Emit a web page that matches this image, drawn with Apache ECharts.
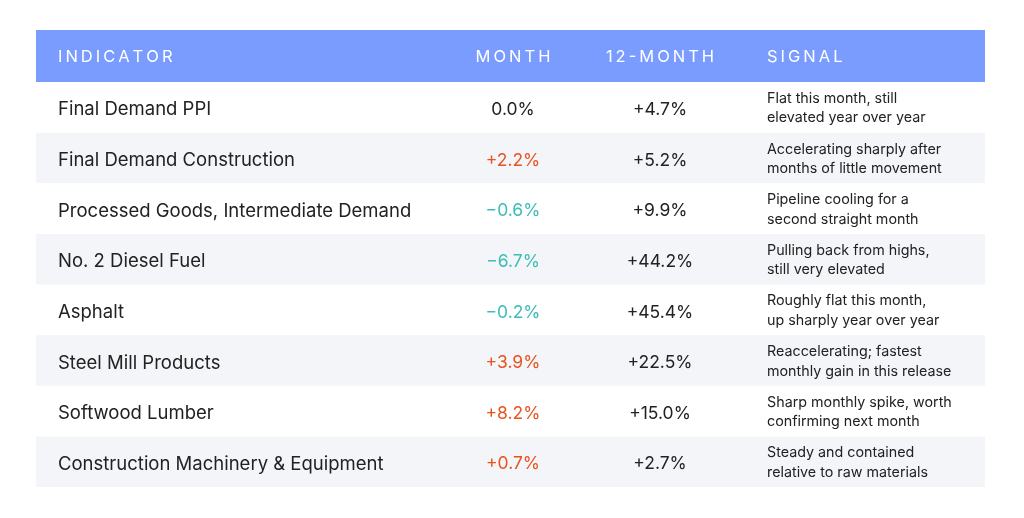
<!DOCTYPE html>
<html>
<head>
<meta charset="utf-8">
<script src="https://cdn.jsdelivr.net/npm/echarts@6/dist/echarts.min.js"></script>
<style>
  html, body { margin: 0; padding: 0; background: #fff; }
  #main { width: 1024px; height: 518px; }
</style>
</head>
<body>
<div id="main"></div>
<script>
// 表头与数据
var headers = ['INDICATOR', 'MONTH', '12-MONTH', 'SIGNAL'];
var indicators = [
    'Final Demand PPI',
    'Final Demand Construction',
    'Processed Goods, Intermediate Demand',
    'No. 2 Diesel Fuel',
    'Asphalt',
    'Steel Mill Products',
    'Softwood Lumber',
    'Construction Machinery & Equipment'
];
var monthChange = [0.0, 2.2, -0.6, -6.7, -0.2, 3.9, 8.2, 0.7];
var yearChange = [4.7, 5.2, 9.9, 44.2, 45.4, 22.5, 15.0, 2.7];
var signals = [
    'Flat this month, still\nelevated year over year',
    'Accelerating sharply after\nmonths of little movement',
    'Pipeline cooling for a\nsecond straight month',
    'Pulling back from highs,\nstill very elevated',
    'Roughly flat this month,\nup sharply year over year',
    'Reaccelerating; fastest\nmonthly gain in this release',
    'Sharp monthly spike, worth\nconfirming next month',
    'Steady and contained\nrelative to raw materials'
];

var FONT = 'Inter, "Noto Sans", sans-serif';
var TABLE_W = 949;   // x 轴单位 = 表格宽度
var COL = { name: 22, month: 477, year: 624, signal: 731 };

var fmt = function(v){
    var s = Math.abs(v).toFixed(1) + '%';
    if (v > 0) return '+' + s;
    if (v < 0) return '\u2212' + s;
    return s;
};
var signColor = function(v){
    if (v > 0) return '#E8541E';
    if (v < 0) return '#3DBDB5';
    return '#222222';
};

var rowCats = ['header'].concat(indicators);

var renderRow = function(params, api){
    var i = api.value(1);
    var p0 = api.coord([0, i]);
    var p1 = api.coord([TABLE_W, i]);
    var h = api.size([0, 1])[1];
    var cy = p0[1];
    var x = function(u){ return api.coord([u, i])[0]; };
    var children = [];

    if (i === 0) {
        // 表头稍高一点
        children.push({
            type: 'rect',
            shape: { x: p0[0], y: cy - h / 2 - 1.5, width: p1[0] - p0[0], height: h + 1.5 },
            style: { fill: '#7A9CFF' }
        });
        var hx = [COL.name, COL.month, COL.year, COL.signal];
        var ha = ['left', 'center', 'center', 'left'];
        headers.forEach(function(t, k){
            children.push({
                type: 'text',
                style: {
                    x: x(hx[k]), y: cy + 0.5, text: t.split('').join('\u2009'),
                    fill: '#ffffff', fontSize: 16.5, fontFamily: FONT,
                    align: ha[k], verticalAlign: 'middle'
                }
            });
        });
        return { type: 'group', children: children };
    }

    var r = i - 1;
    if (r % 2 === 1) {
        children.push({
            type: 'rect',
            shape: { x: p0[0], y: cy - h / 2, width: p1[0] - p0[0], height: h },
            style: { fill: '#F4F5F9' }
        });
    }
    children.push({
        type: 'text',
        style: { x: x(COL.name), y: cy + 2.5, text: indicators[r], fill: '#222222',
            fontSize: 18.5, fontFamily: FONT, align: 'left', verticalAlign: 'middle' }
    });
    children.push({
        type: 'text',
        style: { x: x(COL.month), y: cy + 2.5, text: fmt(monthChange[r]), fill: signColor(monthChange[r]),
            fontSize: 17.5, fontFamily: FONT, align: 'center', verticalAlign: 'middle' }
    });
    children.push({
        type: 'text',
        style: { x: x(COL.year), y: cy + 2.5, text: '+' + yearChange[r].toFixed(1) + '%', fill: '#222222',
            fontSize: 17.5, fontFamily: FONT, align: 'center', verticalAlign: 'middle' }
    });
    children.push({
        type: 'text',
        style: { x: x(COL.signal), y: cy + 1, text: signals[r], fill: '#222222',
            fontSize: 14.3, lineHeight: 19.5, fontFamily: FONT, align: 'left', verticalAlign: 'middle' }
    });
    return { type: 'group', children: children };
};

var myChart = echarts.init(document.getElementById('main'));
var option = {
    animation: false,
    backgroundColor: '#ffffff',
    grid: { left: 36, right: 39, top: 31.5, bottom: 31 },
    xAxis: { type: 'value', min: 0, max: TABLE_W, show: false },
    yAxis: { type: 'category', data: rowCats, inverse: true, show: false },
    series: [{
        type: 'custom',
        renderItem: renderRow,
        encode: { x: 0, y: 1 },
        data: rowCats.map(function(c, i){ return [0, i]; })
    }]
};
myChart.setOption(option);
</script>
</body>
</html>
